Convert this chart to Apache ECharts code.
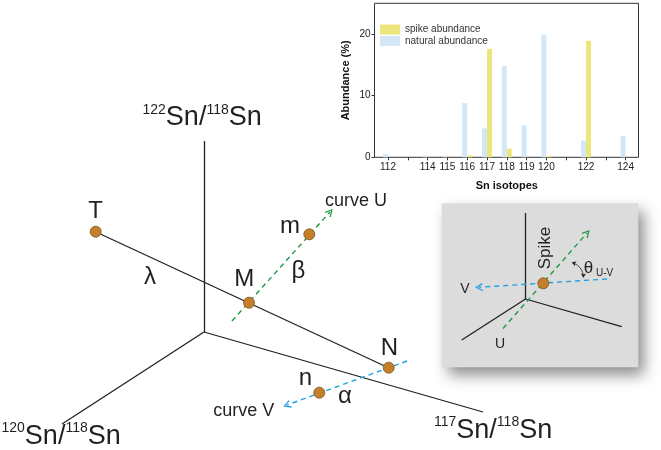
<!DOCTYPE html>
<html><head><meta charset="utf-8">
<script src="https://cdn.jsdelivr.net/npm/echarts@6/dist/echarts.min.js"></script>
<style>html,body{margin:0;padding:0;background:#fff}#c{width:661px;height:450px}</style>
</head><body><div id="c"></div><script>
// ---- bar chart data (Sn isotopes) ----
const isotopes = ['112','113','114','115','116','117','118','119','120','121','122','123','124'];
const shownIsotopeLabels = ['112','114','115','116','117','118','119','120','122','124'];
const naturalAbundance = [0.5, null, 0.3, 0.15, 8.8, 4.7, 14.8, 5.2, 19.9, null, 2.7, null, 3.5];
const spikeAbundance   = [0, null, 0, 0, 0.3, 17.6, 1.4, 0, 0.2, null, 18.9, null, 0];
const yTicks = [0, 10, 20];

// ---- schematic diagram data (diagram space) ----
const ratioAxes = [[[204,141],[204,332]], [[204,332],[483,412]], [[204,332],[62,424]]];
const mixingLine = [[96,232],[389,368]];
const curveU = [[232,321],[330,212]];
const curveV = [[407,361],[287,405]];
const insetAxes = [[[525.7,213],[525.5,299]], [[525.5,299],[621.7,326.7]], [[525.5,299],[461.7,340]]];
const insetU = [[503,328.5],[587,233]];
const insetV = [[607,279],[479,287.3]];
const angleArc = [[572,262.5],[583.5,277.5]];
const diagramPoints = [['T',95.7,231.7],['M',249,302.7],['m',309.3,234.3],['N',388.7,367.7],['n',319.3,392.7],['Spike',543.3,283.3]];

const FONT = 'Arial, "Liberation Sans", sans-serif';
const INK = '#231f20';
const GREEN = '#1f9a48';
const BLUE = '#22a0e4';
const CHEVRON = 'path://M5,0L10,9L8.6,10L5,3L1.4,10L0,9Z';

function txt(text, x, y, size, opts) {
  return Object.assign({
    type: 'text', z: 20, x: x, y: y,
    style: Object.assign({text: text, x: 0, y: 0, fontSize: size, fontFamily: FONT, fill: INK, align: 'center', verticalAlign: 'middle'}, (opts && opts.style) || {})
  }, (opts && opts.el) || {});
}
function ratioLabel(sup1, sup2, x, y) {
  return {
    type: 'text', z: 20, x: x, y: y,
    style: {
      text: '{s|' + sup1 + '}{b|Sn/}{s|' + sup2 + '}{b|Sn}',
      x: 0, y: 0, align: 'left', verticalAlign: 'middle', fill: INK,
      rich: {
        s: {fontSize: 14, fontFamily: FONT, fill: INK, verticalAlign: 'top', lineHeight: 30},
        b: {fontSize: 27, fontFamily: FONT, fill: INK, lineHeight: 30}
      }
    }
  };
}

const chart = echarts.init(document.getElementById('c'), null, {renderer: 'canvas'});
chart.setOption({
  animation: false,
  backgroundColor: '#ffffff',
  textStyle: {fontFamily: FONT},
  grid: [
    {left: 378.1, width: 257.4, top: 3.3, height: 154},
    {left: 0, top: 0, width: 661, height: 450}
  ],
  legend: {
    data: ['spike abundance', 'natural abundance'],
    orient: 'vertical', left: 380, top: 24.5, itemWidth: 20, itemHeight: 10, itemGap: 1.5,
    icon: 'rect', padding: 0,
    textStyle: {fontSize: 10, color: '#333', fontFamily: FONT}
  },
  xAxis: [
    {
      type: 'category', gridIndex: 0, data: isotopes, boundaryGap: true,
      axisLine: {show: false},
      axisTick: {show: true, alignWithLabel: true, interval: 0, length: 3, lineStyle: {color: '#333'}},
      axisLabel: {interval: 0, margin: 5, fontSize: 10, color: '#222', fontFamily: FONT,
        formatter: v => shownIsotopeLabels.indexOf(v) >= 0 ? v : ''},
      name: 'Sn isotopes', nameLocation: 'middle', nameGap: 23,
      nameTextStyle: {fontSize: 11, fontWeight: 'bold', color: '#111', fontFamily: FONT}
    },
    {type: 'value', gridIndex: 1, min: 0, max: 661, show: false}
  ],
  yAxis: [
    {
      type: 'value', gridIndex: 0, min: 0, max: 25, interval: 10, offset: 3.6,
      splitLine: {show: false}, axisLine: {show: false},
      axisTick: {show: true, length: 3, lineStyle: {color: '#333'}},
      axisLabel: {fontSize: 10, color: '#222', margin: 4, showMaxLabel: false, fontFamily: FONT,
        formatter: v => yTicks.indexOf(v) >= 0 ? String(v) : ''},
      name: 'Abundance (%)', nameLocation: 'middle', nameGap: 23, nameRotate: 90,
      nameTextStyle: {fontSize: 11, fontWeight: 'bold', color: '#111', fontFamily: FONT}
    },
    {type: 'value', gridIndex: 1, min: 0, max: 450, inverse: true, show: false}
  ],
  graphic: [
    {type: 'rect', z: 0, shape: {x: 374.5, y: 3.3, width: 264, height: 154},
      style: {fill: 'none', stroke: '#333', lineWidth: 1}},
    {type: 'rect', z: 0, shape: {x: 441.7, y: 203.3, width: 196.6, height: 164},
      style: {fill: '#dcdcdc', shadowBlur: 14, shadowOffsetX: 6, shadowOffsetY: 8, shadowColor: 'rgba(0,0,0,0.45)'}},
    ratioLabel('122', '118', 142.5, 118),
    ratioLabel('120', '118', 1.5, 436.5),
    ratioLabel('117', '118', 434, 430.5),
    txt('T', 95.7, 211, 24),
    txt('λ', 150, 277, 24),
    txt('M', 244.3, 279, 24),
    txt('m', 290, 226, 24),
    txt('β', 298.3, 271, 24),
    txt('N', 389.3, 348.3, 24),
    txt('n', 305.3, 378.5, 24),
    txt('α', 345, 396, 24),
    txt('curve U', 325, 201, 18, {style: {align: 'left'}}),
    txt('curve V', 213.3, 410.7, 18, {style: {align: 'left'}}),
    txt('V', 465, 289.3, 14),
    txt('U', 500, 344.3, 14),
    txt('Spike', 545, 248, 17, {el: {rotation: Math.PI / 2}}),
    txt('θ', 588.5, 268.5, 17),
    txt('U-V', 596, 273.5, 10, {style: {align: 'left'}})
  ],
  series: [
    {
      name: 'natural abundance', type: 'bar', xAxisIndex: 0, yAxisIndex: 0,
      data: naturalAbundance, barWidth: 5, barGap: '0%',
      itemStyle: {color: '#d4e7f7'}
    },
    {
      name: 'spike abundance', type: 'bar', xAxisIndex: 0, yAxisIndex: 0,
      data: spikeAbundance, barWidth: 5, barGap: '0%',
      itemStyle: {color: '#ece67c'}
    },
    {
      name: 'axes', type: 'lines', coordinateSystem: 'cartesian2d', xAxisIndex: 1, yAxisIndex: 1,
      silent: true, z: 3, symbol: 'none',
      data: ratioAxes.concat([mixingLine]).concat(insetAxes).map(c => ({coords: c})),
      lineStyle: {color: INK, width: 1.3, opacity: 1}
    },
    {
      name: 'curve U', type: 'lines', coordinateSystem: 'cartesian2d', xAxisIndex: 1, yAxisIndex: 1,
      silent: true, z: 4, symbol: ['none', CHEVRON], symbolSize: 8,
      data: [{coords: curveU}, {coords: insetU}],
      lineStyle: {color: GREEN, width: 1.4, type: [5, 4], opacity: 1}
    },
    {
      name: 'curve V', type: 'lines', coordinateSystem: 'cartesian2d', xAxisIndex: 1, yAxisIndex: 1,
      silent: true, z: 4, symbol: ['none', CHEVRON], symbolSize: 8,
      data: [{coords: curveV}, {coords: insetV}],
      lineStyle: {color: BLUE, width: 1.4, type: [5, 4], opacity: 1}
    },
    {
      name: 'angle', type: 'lines', coordinateSystem: 'cartesian2d', xAxisIndex: 1, yAxisIndex: 1,
      silent: true, z: 4, symbol: ['arrow', 'arrow'], symbolSize: 4,
      data: [{coords: angleArc}],
      lineStyle: {color: INK, width: 0.8, curveness: 0.35, opacity: 1}
    },
    {
      name: 'points', type: 'scatter', xAxisIndex: 1, yAxisIndex: 1, silent: true, z: 6,
      symbol: 'circle', symbolSize: 11,
      data: diagramPoints.map(p => ({name: p[0], value: [p[1], p[2]]})),
      itemStyle: {color: '#c47f2b', borderColor: '#7d5219', borderWidth: 0.8, opacity: 1}
    }
  ]
});
</script></body></html>
